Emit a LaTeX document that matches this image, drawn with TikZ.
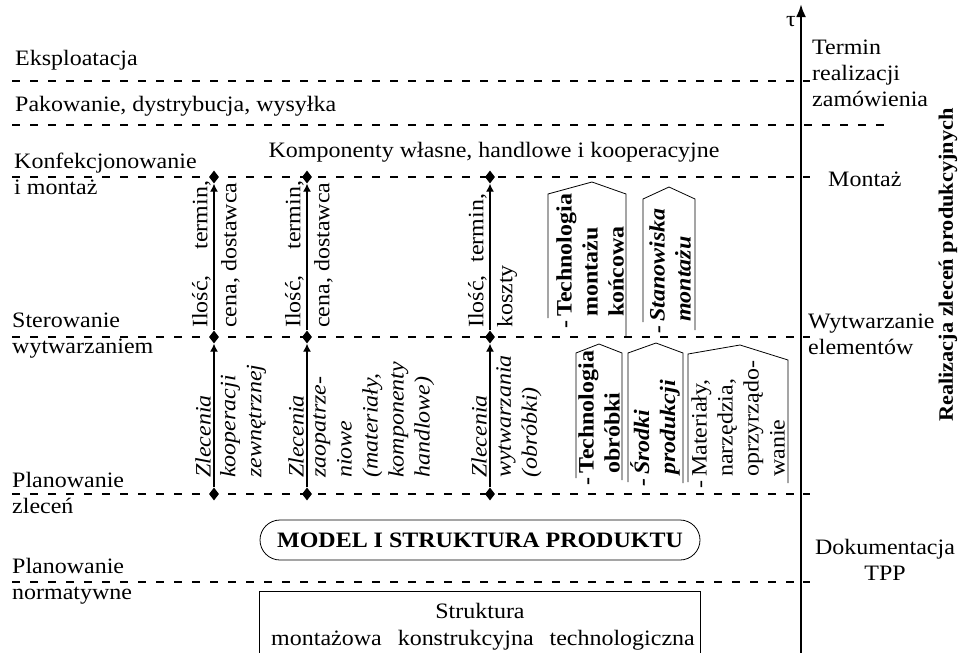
\documentclass[tikz,border=0pt]{standalone}
\usepackage{fontspec}
\setmainfont{Liberation Serif}[FakeStretch=1.09]
\usetikzlibrary{arrows.meta,shapes.geometric,positioning}

\begin{document}
\begin{tikzpicture}[x=1pt,y=-1pt,font=\fontsize{22}{26}\selectfont,
  level/.style={dash pattern=on 8pt off 10pt,line width=1.3pt},
  dot/.style={diamond,fill,inner sep=0pt,minimum width=10pt,minimum height=13pt},
  flow/.style={-{Latex[length=8pt,width=8pt]},line width=1.2pt},
  vert/.style={rotate=90,align=left,inner sep=1pt},
  lab/.style={align=left,anchor=north west,inner sep=0pt},
  itxt/.style={font=\fontsize{22}{26}\selectfont\itshape},
  btxt/.style={font=\fontsize{22}{26}\selectfont\bfseries},
  bitxt/.style={font=\fontsize{22}{26}\selectfont\bfseries\itshape},
  tab/.style={line width=0.8pt}]

\useasboundingbox (0,0) rectangle (964,653);

\foreach \y in {81,177,337,494,582}{
  \draw[level] (12,\y) -- (797,\y);
  \draw[line width=1.3pt] (803,\y) -- (810,\y);
}
\draw[level] (12,125) -- (888,125);

\coordinate (t_0) at (801,653);
\coordinate (t_1) at (801,4);
\draw[-{Latex[length=13pt,width=10pt]},line width=2.5pt] (t_0) -- (t_1);
\node (tau) at (791,22) {τ};

\node[anchor=base west,inner sep=0pt] (eks) at (15,65) {Eksploatacja};
\node[anchor=base west,inner sep=0pt] (pak) at (15,111) {Pakowanie, dystrybucja, wysyłka};
\node[lab] (konf) at (14,153) {Konfekcjonowanie\\i montaż};
\node[lab] (ster) at (12,313) {Sterowanie\\wytwarzaniem};
\node[lab] (plz) at (12,472) {Planowanie\\zleceń};
\node[lab] (pln) at (12,558) {Planowanie\\normatywne};

\node[anchor=base] (komp) at (494,157) {Komponenty własne, handlowe i kooperacyjne};

\node[lab,anchor=west] (termin) at (812,73) {Termin\\realizacji\\zamówienia};
\node[lab,anchor=west] (montaz) at (828,179) {Montaż};
\node[lab] (wytw) at (808,314) {Wytwarzanie\\elementów};
\node[align=center] (dok) at (885,560) {Dokumentacja\\TPP};
\node[rotate=90,font=\fontsize{20.5}{24}\selectfont\bfseries] (real) at (948,265) {Realizacja zleceń produkcyjnych};

\foreach \x/\n in {214/1,307/2,490/3}{
  \node[dot] (p_\n) at (\x,494) {};
  \node[dot] (s_\n) at (\x,337) {};
  \node[dot] (m_\n) at (\x,177) {};
  \path (p_\n) edge[flow] (s_\n)
        (s_\n) edge[flow] (m_\n);
}

\node[vert,anchor=south west] (i_1) at (212,329) {\makebox[147pt][s]{Ilość, termin,}};
\node[vert,anchor=north west] (c_1) at (220,329) {cena, dostawca};
\node[vert,anchor=south west] (i_2) at (305,329) {\makebox[147pt][s]{Ilość, termin,}};
\node[vert,anchor=north west] (c_2) at (313,329) {cena, dostawca};
\node[vert,anchor=south west] (i_3) at (488,329) {\makebox[134pt][s]{Ilość, termin,}};
\node[vert,anchor=north west] (c_3) at (496,329) {koszty};

\node[vert,itxt,anchor=south west] (z_1) at (212,479) {Zlecenia};
\node[vert,itxt,anchor=north west] (k_1) at (219,479) {kooperacji\\zewnętrznej};
\node[vert,itxt,anchor=south west] (z_2) at (305,479) {Zlecenia};
\node[vert,itxt,anchor=north west] (k_2) at (312,479) {zaopatrze-\\niowe\\(materiały,\\komponenty\\handlowe)};
\node[vert,itxt,anchor=south west] (z_3) at (488,479) {Zlecenia};
\node[vert,itxt,anchor=north west] (k_3) at (495,479) {wytwarzania\\(obróbki)};

\draw[tab] (548,318) -- (548,194) -- (592,182) -- (626,194) -- (626,336);
\node[vert,btxt,anchor=west] (tmk) at (590,318) {\llap{-\,}Technologia\\montażu\\końcowa};
\draw[tab] (643,322) -- (643,199) -- (669,187) -- (695,199) -- (695,330);
\node[vert,bitxt,anchor=west] (stm) at (670,323) {\llap{-\,}Stanowiska\\montażu};

\draw[tab] (576,478) -- (576,353) -- (599,344) -- (622,353) -- (622,480);
\node[vert,btxt,anchor=west] (tob) at (599,475) {\llap{-\,}Technologia\\obróbki};
\draw[tab] (628,482) -- (628,353) -- (656,343) -- (683,353) -- (683,483);
\node[vert,bitxt,anchor=west] (srp) at (655,476) {\llap{-\,}Środki\\produkcji};
\draw[tab] (688,482) -- (688,354) -- (740,345) -- (788,360) -- (788,483);
\node[vert,anchor=west] (mat) at (738,478) {\llap{-\,}Materiały,\\narzędzia,\\oprzyrządo-\\wanie};

\node[draw,tab,btxt,rounded corners=20pt,minimum width=440pt,minimum height=40pt] (model) at (480,540) {MODEL I STRUKTURA PRODUKTU};

\draw[tab] (259,653) -- (259,591) -- (700,591) -- (700,653);
\node[anchor=base] (str) at (480,618) {Struktura};
\node[anchor=base] (str_b) at (483,645) {montażowa\hspace{16pt}konstrukcyjna\hspace{16pt}technologiczna};

\end{tikzpicture}
\end{document}
